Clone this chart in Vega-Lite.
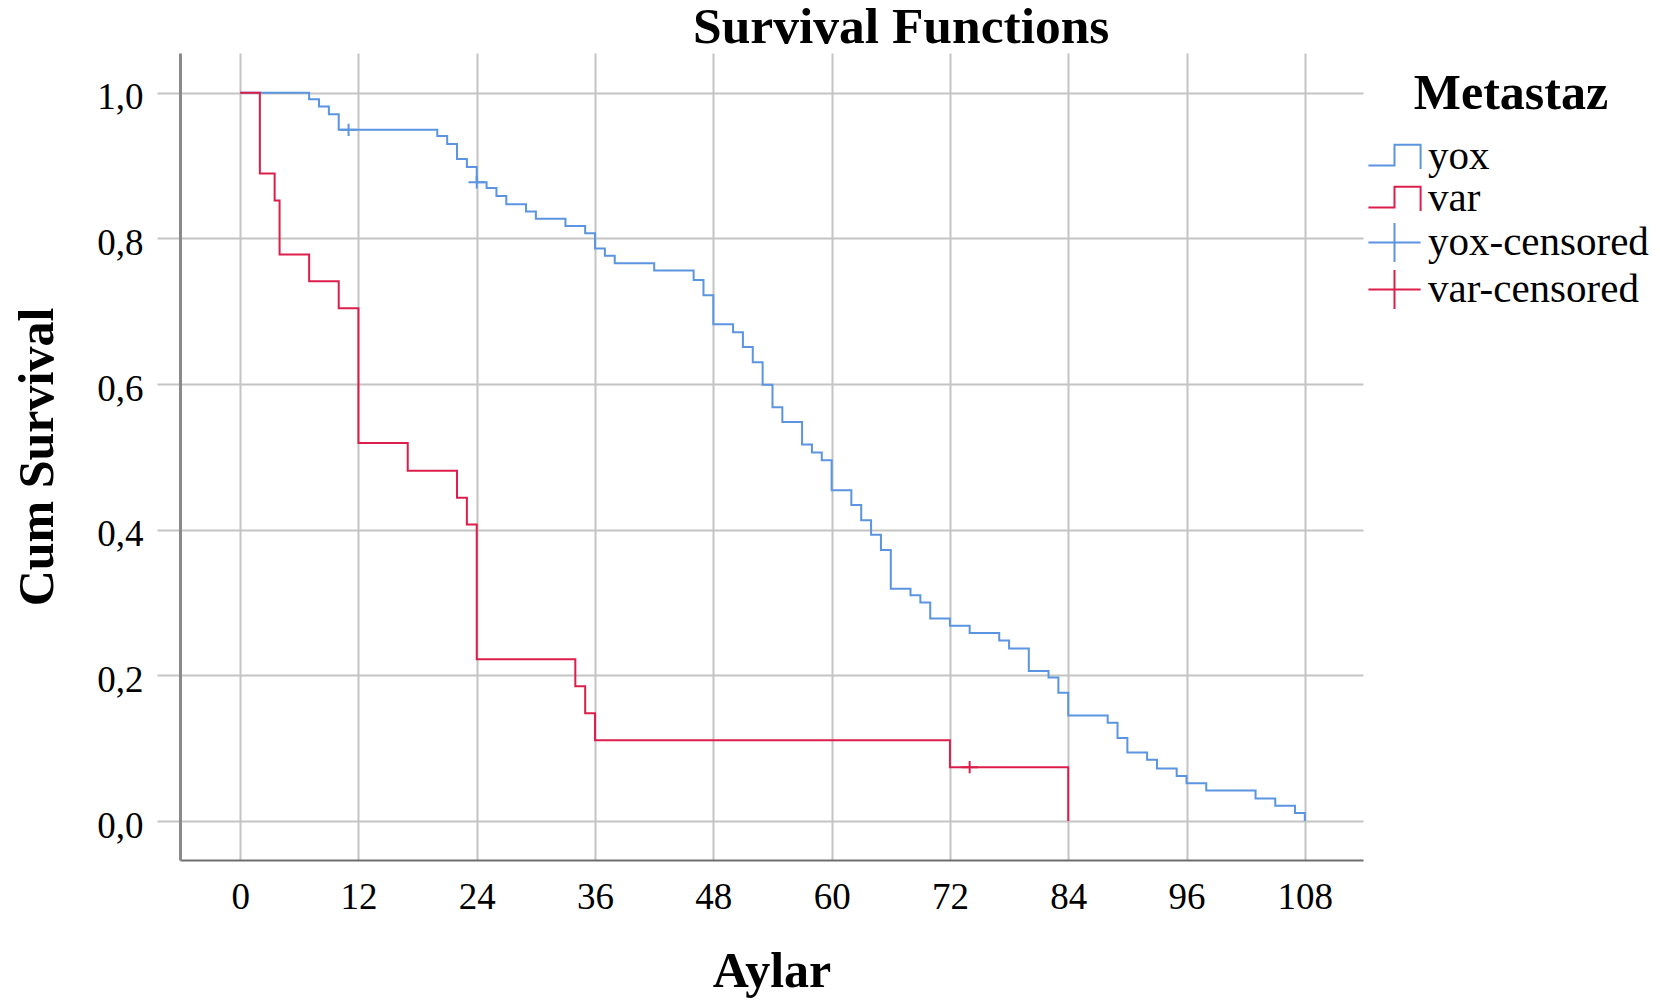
{
  "$schema": "https://vega.github.io/schema/vega-lite/v6.json",
  "width": 1183,
  "height": 807,
  "autosize": {"type": "none"},
  "padding": {"left": 180, "top": 53, "right": 297, "bottom": 140},
  "background": "white",
  "title": {"text": "Survival Functions", "anchor": "start", "frame": "group", "dx": 513, "offset": 0, "font": "Liberation Serif", "fontSize": 51.5, "fontWeight": "bold", "color": "black"},
  "datasets": {
    "curves": [
      {"series": "yox", "t": 0, "s": 1.0},
      {"series": "yox", "t": 7, "s": 0.991},
      {"series": "yox", "t": 8, "s": 0.981},
      {"series": "yox", "t": 9, "s": 0.9705},
      {"series": "yox", "t": 10, "s": 0.949},
      {"series": "yox", "t": 20, "s": 0.9406},
      {"series": "yox", "t": 21, "s": 0.9296},
      {"series": "yox", "t": 22, "s": 0.909},
      {"series": "yox", "t": 23, "s": 0.898},
      {"series": "yox", "t": 24, "s": 0.877},
      {"series": "yox", "t": 25, "s": 0.869},
      {"series": "yox", "t": 26, "s": 0.858},
      {"series": "yox", "t": 27, "s": 0.847},
      {"series": "yox", "t": 29, "s": 0.837},
      {"series": "yox", "t": 30, "s": 0.827},
      {"series": "yox", "t": 33, "s": 0.817},
      {"series": "yox", "t": 35, "s": 0.807},
      {"series": "yox", "t": 36, "s": 0.786},
      {"series": "yox", "t": 37, "s": 0.776},
      {"series": "yox", "t": 38, "s": 0.766},
      {"series": "yox", "t": 42, "s": 0.756},
      {"series": "yox", "t": 46, "s": 0.743},
      {"series": "yox", "t": 47, "s": 0.722},
      {"series": "yox", "t": 48, "s": 0.682},
      {"series": "yox", "t": 50, "s": 0.671},
      {"series": "yox", "t": 51, "s": 0.651},
      {"series": "yox", "t": 52, "s": 0.630},
      {"series": "yox", "t": 53, "s": 0.599},
      {"series": "yox", "t": 54, "s": 0.568},
      {"series": "yox", "t": 55, "s": 0.548},
      {"series": "yox", "t": 57, "s": 0.517},
      {"series": "yox", "t": 58, "s": 0.506},
      {"series": "yox", "t": 59, "s": 0.4955},
      {"series": "yox", "t": 60, "s": 0.454},
      {"series": "yox", "t": 62, "s": 0.434},
      {"series": "yox", "t": 63, "s": 0.413},
      {"series": "yox", "t": 64, "s": 0.393},
      {"series": "yox", "t": 65, "s": 0.372},
      {"series": "yox", "t": 66, "s": 0.319},
      {"series": "yox", "t": 68, "s": 0.310},
      {"series": "yox", "t": 69, "s": 0.300},
      {"series": "yox", "t": 70, "s": 0.278},
      {"series": "yox", "t": 72, "s": 0.268},
      {"series": "yox", "t": 74, "s": 0.258},
      {"series": "yox", "t": 77, "s": 0.248},
      {"series": "yox", "t": 78, "s": 0.237},
      {"series": "yox", "t": 80, "s": 0.206},
      {"series": "yox", "t": 82, "s": 0.197},
      {"series": "yox", "t": 83, "s": 0.176},
      {"series": "yox", "t": 84, "s": 0.145},
      {"series": "yox", "t": 88, "s": 0.135},
      {"series": "yox", "t": 89, "s": 0.114},
      {"series": "yox", "t": 90, "s": 0.094},
      {"series": "yox", "t": 92, "s": 0.084},
      {"series": "yox", "t": 93, "s": 0.072},
      {"series": "yox", "t": 95, "s": 0.062},
      {"series": "yox", "t": 96, "s": 0.052},
      {"series": "yox", "t": 98, "s": 0.042},
      {"series": "yox", "t": 103, "s": 0.031},
      {"series": "yox", "t": 105, "s": 0.021},
      {"series": "yox", "t": 107, "s": 0.011},
      {"series": "yox", "t": 108, "s": 0.0},
      {"series": "var", "t": 0, "s": 1.0},
      {"series": "var", "t": 2, "s": 0.889},
      {"series": "var", "t": 3.5, "s": 0.852},
      {"series": "var", "t": 4, "s": 0.778},
      {"series": "var", "t": 7, "s": 0.741},
      {"series": "var", "t": 10, "s": 0.704},
      {"series": "var", "t": 12, "s": 0.519},
      {"series": "var", "t": 17, "s": 0.481},
      {"series": "var", "t": 22, "s": 0.444},
      {"series": "var", "t": 23, "s": 0.407},
      {"series": "var", "t": 24, "s": 0.222},
      {"series": "var", "t": 34, "s": 0.185},
      {"series": "var", "t": 35, "s": 0.148},
      {"series": "var", "t": 36, "s": 0.111},
      {"series": "var", "t": 72, "s": 0.074},
      {"series": "var", "t": 84, "s": 0.0}
    ],
    "censored": [
      {"series": "yox-censored", "t": 11, "s": 0.949},
      {"series": "yox-censored", "t": 24, "s": 0.877},
      {"series": "var-censored", "t": 74, "s": 0.074}
    ]
  },
  "encoding": {
    "x": {
      "field": "t", "type": "quantitative",
      "scale": {"domain": [-6.1, 113.9], "nice": false, "zero": false},
      "axis": {
        "values": [0, 12, 24, 36, 48, 60, 72, 84, 96, 108],
        "grid": true, "gridColor": "#c4c4c4", "gridWidth": 2,
        "domainColor": "#6e6e6e", "domainWidth": 2,
        "ticks": false, "labelPadding": 19,
        "labelFont": "Liberation Serif", "labelFontSize": 37, "labelColor": "black",
        "title": "Aylar", "titleFont": "Liberation Serif", "titleFontSize": 50, "titleFontWeight": "bold", "titleColor": "black", "titlePadding": 31
      }
    },
    "y": {
      "field": "s", "type": "quantitative",
      "scale": {"domain": [-0.0535, 1.0545], "nice": false, "zero": false},
      "axis": {
        "values": [0, 0.2, 0.4, 0.6, 0.8, 1.0],
        "labelExpr": "replace(format(datum.value, '.1f'), '.', ',')",
        "grid": true, "gridColor": "#c4c4c4", "gridWidth": 2,
        "domainColor": "#8a8a8a", "domainWidth": 3,
        "ticks": true, "tickSize": 23, "tickColor": "#c4c4c4", "tickWidth": 2,
        "labelPadding": 14, "labelOffset": 5,
        "labelFont": "Liberation Serif", "labelFontSize": 37, "labelColor": "black",
        "title": "Cum Survival", "titleFont": "Liberation Serif", "titleFontSize": 50, "titleFontWeight": "bold", "titleColor": "black", "titlePadding": 34
      }
    },
    "color": {
      "field": "series", "type": "nominal",
      "scale": {"domain": ["yox", "var", "yox-censored", "var-censored"], "range": ["#5b94e0", "#dc1e4b", "#5b94e0", "#dc1e4b"]},
      "legend": {
        "title": "Metastaz", "orient": "none", "legendX": 1194, "legendY": 16, "padding": 0,
        "titleFont": "Liberation Serif", "titleFontSize": 50, "titleFontWeight": "bold", "titleColor": "black", "titleAnchor": "middle", "titlePadding": 17, "titleLimit": 500,
        "labelFont": "Liberation Serif", "labelFontSize": 41, "labelColor": "black", "labelOffset": 13, "labelLimit": 500,
        "symbolSize": 1296, "symbolStrokeWidth": 2, "rowPadding": 0
      }
    }
  },
  "layer": [
    {
      "data": {"name": "curves"},
      "transform": [{"filter": "datum.series === 'yox'"}],
      "mark": {"type": "line", "interpolate": "step-after", "strokeWidth": 2}
    },
    {
      "data": {"name": "curves"},
      "transform": [{"filter": "datum.series === 'var'"}],
      "mark": {"type": "line", "interpolate": "step-after", "strokeWidth": 2}
    },
    {
      "data": {"name": "censored"},
      "mark": {"type": "point", "filled": false, "strokeWidth": 2, "size": 130, "opacity": 1},
      "encoding": {
        "shape": {
          "field": "series", "type": "nominal",
          "scale": {"domain": ["yox", "var", "yox-censored", "var-censored"], "range": ["M-1.45,0.5H0V-0.65H1.45V0.7", "M-1.45,0.5H0V-0.65H1.45V0.7", "M-1.45,0H1.45M0,-1.08V1.08", "M-1.45,0H1.45M0,-1.08V1.08"]},
          "legend": {
            "title": "Metastaz", "orient": "none", "legendX": 1194, "legendY": 16, "padding": 0,
            "titleFont": "Liberation Serif", "titleFontSize": 50, "titleFontWeight": "bold", "titleColor": "black", "titleAnchor": "middle", "titlePadding": 17, "titleLimit": 500,
            "labelFont": "Liberation Serif", "labelFontSize": 41, "labelColor": "black", "labelOffset": 13, "labelLimit": 500,
            "symbolSize": 1296, "symbolStrokeWidth": 2, "rowPadding": 0
          }
        }
      }
    }
  ],
  "config": {"view": {"stroke": null}}
}
